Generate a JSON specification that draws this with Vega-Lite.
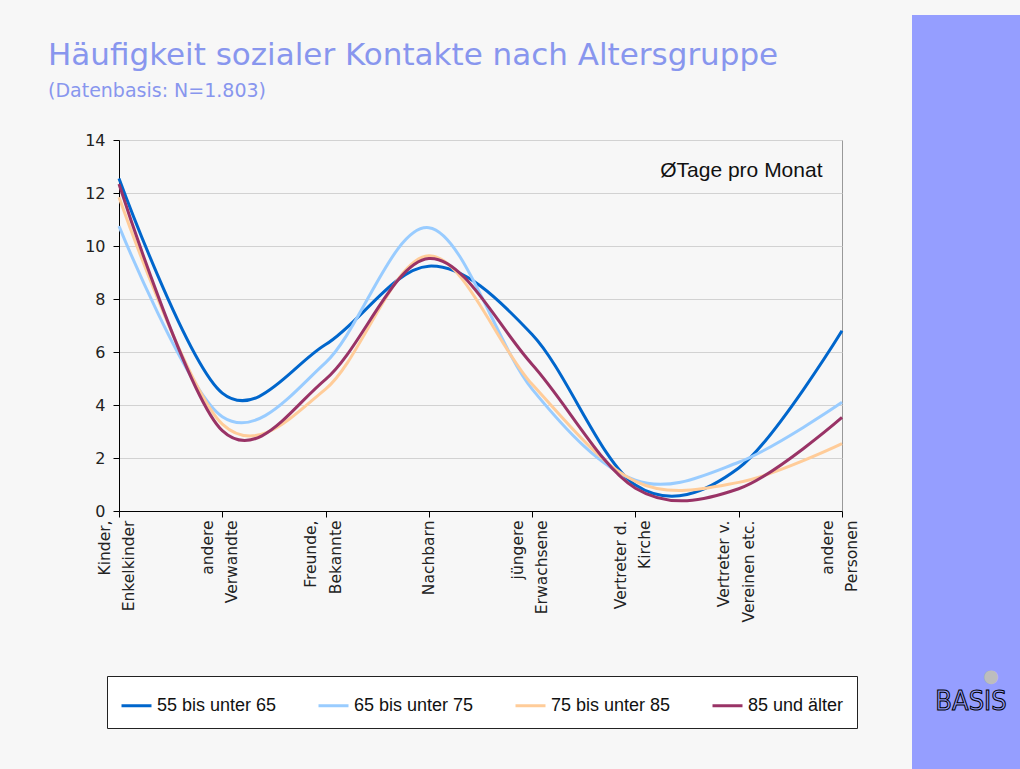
{
  "$schema": "https://vega.github.io/schema/vega-lite/v6.json",
  "background": "#F7F7F7",
  "padding": {"left": 47, "top": 15, "right": 0, "bottom": 0},
  "spacing": 51,
  "resolve": {"legend": {"color": "independent"}},
  "config": {
    "axis": {"domainColor": "#000000", "tickColor": "#000000", "labelColor": "#222222", "labelFont": "DejaVu Sans", "gridColor": "#D2D2D2", "gridWidth": 1}
  },
  "datasets": {
    "werte": [
      {"kat": "Kinder,\nEnkelkinder", "gruppe": "55 bis unter 65", "tage": 12.55},
      {"kat": "andere\nVerwandte", "gruppe": "55 bis unter 65", "tage": 4.45},
      {"kat": "Freunde,\nBekannte", "gruppe": "55 bis unter 65", "tage": 6.28},
      {"kat": "Nachbarn", "gruppe": "55 bis unter 65", "tage": 9.24},
      {"kat": "jüngere\nErwachsene", "gruppe": "55 bis unter 65", "tage": 6.66},
      {"kat": "Vertreter d.\nKirche", "gruppe": "55 bis unter 65", "tage": 0.98},
      {"kat": "Vertreter v.\nVereinen etc.", "gruppe": "55 bis unter 65", "tage": 1.62},
      {"kat": "andere\nPersonen", "gruppe": "55 bis unter 65", "tage": 6.8},
      {"kat": "Kinder,\nEnkelkinder", "gruppe": "65 bis unter 75", "tage": 10.75},
      {"kat": "andere\nVerwandte", "gruppe": "65 bis unter 75", "tage": 3.56},
      {"kat": "Freunde,\nBekannte", "gruppe": "65 bis unter 75", "tage": 5.6},
      {"kat": "Nachbarn", "gruppe": "65 bis unter 75", "tage": 10.69},
      {"kat": "jüngere\nErwachsene", "gruppe": "65 bis unter 75", "tage": 4.6},
      {"kat": "Vertreter d.\nKirche", "gruppe": "65 bis unter 75", "tage": 1.16},
      {"kat": "Vertreter v.\nVereinen etc.", "gruppe": "65 bis unter 75", "tage": 1.84},
      {"kat": "andere\nPersonen", "gruppe": "65 bis unter 75", "tage": 4.1},
      {"kat": "Kinder,\nEnkelkinder", "gruppe": "75 bis unter 85", "tage": 11.84},
      {"kat": "andere\nVerwandte", "gruppe": "75 bis unter 85", "tage": 3.28},
      {"kat": "Freunde,\nBekannte", "gruppe": "75 bis unter 85", "tage": 4.6},
      {"kat": "Nachbarn", "gruppe": "75 bis unter 85", "tage": 9.63},
      {"kat": "jüngere\nErwachsene", "gruppe": "75 bis unter 85", "tage": 4.78},
      {"kat": "Vertreter d.\nKirche", "gruppe": "75 bis unter 85", "tage": 1.12},
      {"kat": "Vertreter v.\nVereinen etc.", "gruppe": "75 bis unter 85", "tage": 1.08},
      {"kat": "andere\nPersonen", "gruppe": "75 bis unter 85", "tage": 2.54},
      {"kat": "Kinder,\nEnkelkinder", "gruppe": "85 und älter", "tage": 12.34},
      {"kat": "andere\nVerwandte", "gruppe": "85 und älter", "tage": 3.03},
      {"kat": "Freunde,\nBekannte", "gruppe": "85 und älter", "tage": 4.97},
      {"kat": "Nachbarn", "gruppe": "85 und älter", "tage": 9.53},
      {"kat": "jüngere\nErwachsene", "gruppe": "85 und älter", "tage": 5.53},
      {"kat": "Vertreter d.\nKirche", "gruppe": "85 und älter", "tage": 0.86},
      {"kat": "Vertreter v.\nVereinen etc.", "gruppe": "85 und älter", "tage": 0.84},
      {"kat": "andere\nPersonen", "gruppe": "85 und älter", "tage": 3.53}
    ]
  },
  "hconcat": [
    {
      "vconcat": [
        {
          "width": 723,
          "height": 100,
          "view": {"stroke": null},
          "data": {"values": []},
          "mark": "point"
        },
        {
          "width": 723,
          "height": 371,
          "view": {"stroke": "#999999", "fill": "#F7F7F7"},
          "title": {
            "text": "Häufigkeit sozialer Kontakte nach Altersgruppe",
            "subtitle": "(Datenbasis: N=1.803)",
            "anchor": "start",
            "frame": "group",
            "dx": -71,
            "offset": 30,
            "font": "DejaVu Sans",
            "fontSize": 31,
            "fontWeight": "normal",
            "color": "#8896EE",
            "subtitleFont": "DejaVu Sans",
            "subtitleFontSize": 19,
            "subtitleColor": "#8896EE",
            "subtitlePadding": 10
          },
          "data": {"name": "werte"},
          "mark": {"type": "line", "interpolate": "cardinal", "strokeWidth": 3},
          "encoding": {
            "x": {
              "field": "kat",
              "type": "nominal",
              "sort": ["Kinder,\nEnkelkinder", "andere\nVerwandte", "Freunde,\nBekannte", "Nachbarn", "jüngere\nErwachsene", "Vertreter d.\nKirche", "Vertreter v.\nVereinen etc.", "andere\nPersonen"],
              "scale": {"type": "point", "padding": 0},
              "axis": {
                "title": null,
                "labelAngle": -90,
                "labelExpr": "split(datum.label, '\\n')",
                "labelLineHeight": 24.5,
                "labelFontSize": 15.5,
                "labelPadding": 3,
                "labelOffset": {"condition": {"test": "datum.value == 'Nachbarn'", "value": 0}, "value": -15},
                "tickSize": 6,
                "labelOverlap": false,
                "grid": false
              }
            },
            "y": {
              "field": "tage",
              "type": "quantitative",
              "scale": {"domain": [0, 14], "nice": false},
              "axis": {
                "values": [0, 2, 4, 6, 8, 10, 12, 14],
                "grid": true,
                "tickSize": 6,
                "labelPadding": 8,
                "labelFontSize": 16,
                "title": "ØTage pro Monat",
                "titleAngle": 0,
                "titleAlign": "right",
                "titleBaseline": "alphabetic",
                "titleX": 703,
                "titleY": 36,
                "titleFont": "Liberation Sans",
                "titleFontSize": 21,
                "titleFontWeight": "normal",
                "titleColor": "#111111"
              }
            },
            "color": {
              "field": "gruppe",
              "type": "nominal",
              "scale": {
                "domain": ["55 bis unter 65", "65 bis unter 75", "75 bis unter 85", "85 und älter"],
                "range": ["#0066CC", "#99CCFF", "#FFCC99", "#993366"]
              },
              "legend": {
                "orient": "none",
                "legendX": -12,
                "legendY": 536,
                "direction": "horizontal",
                "title": null,
                "fillColor": "#FFFFFF",
                "strokeColor": "#222222",
                "padding": 13,
                "symbolType": "stroke",
                "symbolStrokeWidth": 3,
                "symbolSize": 900,
                "labelFont": "Liberation Sans",
                "labelFontSize": 18,
                "labelColor": "#111111",
                "labelOffset": 4,
                "columnPadding": 35,
                "labelLimit": 300
              }
            }
          }
        }
      ],
      "spacing": 25,
      "bounds": "flush",
      "resolve": {"legend": {"color": "independent"}}
    },
    {
      "width": 108,
      "height": 754,
      "view": {"fill": "#959EFF", "stroke": null},
      "data": {"values": [{"logo": "BASIS", "punkt": "●"}]},
      "layer": [
        {
          "mark": {"type": "text", "font": "DejaVu Sans Condensed", "fontSize": 27, "fill": "#959EFF", "stroke": "#000000", "strokeWidth": 1, "dx": 5, "dy": 310},
          "encoding": {"text": {"field": "logo", "type": "nominal"}}
        },
        {
          "mark": {"type": "text", "font": "DejaVu Sans", "fontSize": 18, "fill": "#BDBDBD", "dx": 25, "dy": 285},
          "encoding": {"text": {"field": "punkt", "type": "nominal"}}
        }
      ]
    }
  ]
}
